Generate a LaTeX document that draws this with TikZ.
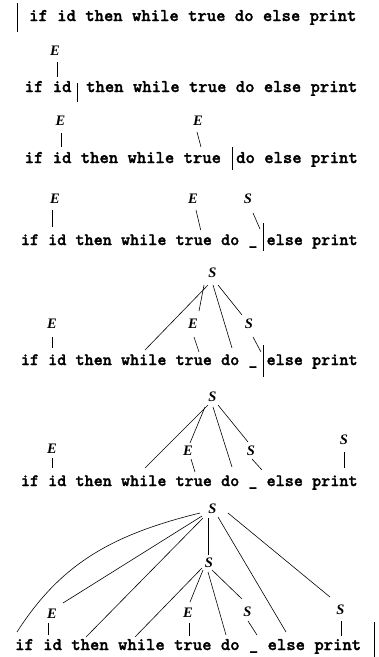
\documentclass[tikz,border=0pt]{standalone}
\usepackage{fontspec}
\newfontfamily\labfont{Liberation Serif}
\newfontfamily\tokfont{lmmonolt10-bold}[Extension=.otf, FakeBold=1.6]
\usetikzlibrary{calc}
\tikzset{
  tokA/.style={inner sep=0pt, anchor=base west, font=\tokfont\fontsize{17.8}{18}\selectfont},
  tokB/.style={inner sep=0pt, anchor=base west, font=\tokfont\fontsize{17.33}{18}\selectfont},
  lab/.style={inner sep=0pt, font=\labfont\bfseries\itshape\fontsize{14.5}{15}\selectfont},
  link/.style={line width=0.6pt},
  cursor/.style={line width=1pt},
}
\begin{document}
\begin{tikzpicture}[x=1pt,y=-1pt]
\useasboundingbox (0,0) rectangle (379,657);

% ---------- row 1
\draw[cursor] (17,3) -- (17,32);
\node[tokA] (r1if) at (29,21) {if};
\node[tokA] (r1id) at (57.05,21) {id};
\node[tokA] (r1then) at (85.1,21) {then};
\node[tokA] (r1while) at (131.85,21) {while};
\node[tokA] (r1true) at (187.95,21) {true};
\node[tokA] (r1do) at (234.7,21) {do};
\node[tokA] (r1else) at (262.75,21) {else};
\node[tokA] (r1print) at (309.5,21) {print};

% ---------- row 2
\node[lab] (r2E) at (55,50.3) {E};
\node[tokA] (r2if) at (24.5,92) {if};
\node[tokA] (r2id) at (52.55,92) {id};
\draw[cursor] (77,83) -- (77,102);
\node[tokA] (r2then) at (86,92) {then};
\node[tokA] (r2while) at (132.75,92) {while};
\node[tokA] (r2true) at (188.85,92) {true};
\node[tokA] (r2do) at (235.6,92) {do};
\node[tokA] (r2else) at (263.65,92) {else};
\node[tokA] (r2print) at (310.4,92) {print};
\draw[link] ($(r2E)+(2,11.7)$) -- ($(r2id.base west)+(4.45,-15)$);

% ---------- row 3
\node[lab] (r3E1) at (60.5,121) {E};
\node[lab] (r3E2) at (198,121) {E};
\node[tokA] (r3if) at (24.5,163) {if};
\node[tokA] (r3id) at (52.55,163) {id};
\node[tokA] (r3then) at (80.6,163) {then};
\node[tokA] (r3while) at (127.35,163) {while};
\node[tokA] (r3true) at (183.45,163) {true};
\draw[cursor] (232,147) -- (232,170);
\node[tokA] (r3do) at (236,163) {do};
\node[tokA] (r3else) at (264.05,163) {else};
\node[tokA] (r3print) at (310.8,163) {print};
\draw[link] ($(r3E1)+(0.5,12)$) -- ($(r3id.base west)+(8.45,-16)$);
\draw[link] ($(r3E2)+(-1,11)$) -- ($(r3true.base west)+(17.55,-16)$);

% ---------- row 4
\node[lab] (r4E1) at (55,198.5) {E};
\node[lab] (r4E2) at (193,198.5) {E};
\node[lab] (r4S) at (248,198.5) {S};
\node[tokB] (r4if) at (20.7,245) {if};
\node[tokB] (r4id) at (48,245) {id};
\node[tokB] (r4then) at (75.3,245) {then};
\node[tokB] (r4while) at (120.8,245) {while};
\node[tokB] (r4true) at (175.4,245) {true};
\node[tokB] (r4do) at (220.9,245) {do};
\node[tokB] (r4us) at (248.2,245) {\_};
\node[tokB] (r4else) at (266.4,245) {else};
\node[tokB] (r4print) at (311.9,245) {print};
\draw[cursor] (263,223) -- (263,251);
\draw[link] ($(r4E1)+(-3,11.5)$) -- ($(r4id.base west)+(4,-18)$);
\draw[link] ($(r4E2)+(3,11.5)$) -- ($(r4true.base west)+(25.3,-15)$);
\draw[link] ($(r4S)+(5,14.5)$) -- ($(r4us.base west)+(11.8,-16)$);

% ---------- row 5
\node[lab] (r5S) at (212.5,272.5) {S};
\node[lab] (r5E1) at (52,323.5) {E};
\node[lab] (r5E2) at (193,323.5) {E};
\node[lab] (r5S2) at (249,323.5) {S};
\node[tokB] (r5if) at (20.7,365) {if};
\node[tokB] (r5id) at (48,365) {id};
\node[tokB] (r5then) at (75.3,365) {then};
\node[tokB] (r5while) at (120.8,365) {while};
\node[tokB] (r5true) at (175.4,365) {true};
\node[tokB] (r5do) at (220.9,365) {do};
\node[tokB] (r5us) at (248.2,365) {\_};
\node[tokB] (r5else) at (266.4,365) {else};
\node[tokB] (r5print) at (311.9,365) {print};
\draw[cursor] (263,345) -- (263,377);
\draw[link] ($(r5S)+(-4.5,12.5)$) -- ($(r5while.base west)+(24.2,-15)$);
\draw[link] ($(r5S)+(-8.5,12.5)$) -- ($(r5E2)+(6,-12.5)$);
\draw[link] ($(r5S)+(0.5,12.5)$) -- ($(r5do.base west)+(11.1,-17)$);
\draw[link] ($(r5S)+(5.5,12.5)$) -- ($(r5S2)+(-7,-8.5)$);
\draw[link] ($(r5E1)+(0,13.5)$) -- ($(r5id.base west)+(4,-17)$);
\draw[link] ($(r5E2)+(1,13.5)$) -- ($(r5true.base west)+(23.6,-13)$);
\draw[link] ($(r5S2)+(4,13.5)$) -- ($(r5us.base west)+(12.8,-13)$);

% ---------- row 6
\node[lab] (r6S) at (212.5,396.5) {S};
\node[lab] (r6E1) at (52,449) {E};
\node[lab] (r6E2) at (188,451) {E};
\node[lab] (r6S2) at (251,450.5) {S};
\node[lab] (r6S3) at (344,440) {S};
\node[tokB] (r6if) at (20.7,486) {if};
\node[tokB] (r6id) at (48,486) {id};
\node[tokB] (r6then) at (75.3,486) {then};
\node[tokB] (r6while) at (120.8,486) {while};
\node[tokB] (r6true) at (175.4,486) {true};
\node[tokB] (r6do) at (220.9,486) {do};
\node[tokB] (r6us) at (248.2,486) {\_};
\node[tokB] (r6else) at (266.4,486) {else};
\node[tokB] (r6print) at (311.9,486) {print};
\draw[link] ($(r6S)+(-4.5,8.5)$) -- ($(r6while.base west)+(24.2,-18)$);
\draw[link] ($(r6S)+(-7.5,10.5)$) -- ($(r6E2)+(2,-8)$);
\draw[link] ($(r6S)+(0.5,10.5)$) -- ($(r6do.base west)+(11.1,-19)$);
\draw[link] ($(r6S)+(5.5,8.5)$) -- ($(r6S2)+(-3,-8.5)$);
\draw[link] ($(r6E1)+(0,9)$) -- ($(r6id.base west)+(4,-18)$);
\draw[link] ($(r6E2)+(3,8)$) -- ($(r6true.base west)+(19.6,-14)$);
\draw[link] ($(r6S2)+(1,8.5)$) -- ($(r6us.base west)+(13.8,-16)$);
\draw[link] ($(r6S3)+(0,12)$) -- ($(r6print.base west)+(32.1,-18)$);

% ---------- row 7
\node[lab] (r7St) at (212.5,508.5) {S};
\node[lab] (r7Sm) at (209,562.5) {S};
\node[lab] (r7E1) at (52,614) {E};
\node[lab] (r7E2) at (188,612.5) {E};
\node[lab] (r7S2) at (247.5,612) {S};
\node[lab] (r7S3) at (340.5,610) {S};
\node[tokA] (r7if) at (15,650) {if};
\node[tokA] (r7id) at (43.05,650) {id};
\node[tokA] (r7then) at (71.1,650) {then};
\node[tokA] (r7while) at (117.85,650) {while};
\node[tokA] (r7true) at (173.95,650) {true};
\node[tokA] (r7do) at (220.7,650) {do};
\node[tokA] (r7us) at (248.75,650) {\_};
\node[tokA] (r7else) at (267.45,650) {else};
\node[tokA] (r7print) at (314.2,650) {print};
\draw[cursor] (374,622) -- (374,657);
\draw[link] ($(r7if.base west)+(2,-18)$) .. controls +(43,-67) and +(-90,22) .. ($(r7St)+(-12.5,4.5)$);
\draw[link] ($(r7E1)+(11,-11)$) -- ($(r7St)+(-10.5,7.5)$);
\draw[link] ($(r7then.base west)+(14.9,-13)$) -- ($(r7St)+(-9.5,9.5)$);
\draw[link] ($(r7St)+(-4.5,9.5)$) -- ($(r7Sm)+(-1,-7.5)$);
\draw[link] ($(r7while.base west)+(17.15,-13)$) -- ($(r7Sm)+(-7,5.5)$);
\draw[link] ($(r7Sm)+(-6,7.5)$) -- ($(r7E2)+(2,-10.5)$);
\draw[link] ($(r7Sm)+(-1,9.5)$) -- ($(r7do.base west)+(5.3,-15)$);
\draw[link] ($(r7Sm)+(3,7.5)$) -- ($(r7S2)+(-5.5,-13)$);
\draw[link] ($(r7E2)+(1,10.5)$) -- ($(r7true.base west)+(15.05,-14)$);
\draw[link] ($(r7S2)+(0.5,9)$) -- ($(r7us.base west)+(8.25,-15)$);
\draw[link] ($(r7St)+(5.5,8.5)$) -- ($(r7else.base west)+(18.55,-18)$);
\draw[link] ($(r7St)+(15.5,4.5)$) -- ($(r7S3)+(-10.5,-13)$);
\draw[link] ($(r7S3)+(0.5,11)$) -- ($(r7print.base west)+(26.8,-14)$);
\draw[link] ($(r7E1)+(-4,9)$) -- ($(r7id.base west)+(4.95,-15)$);
\end{tikzpicture}
\end{document}
